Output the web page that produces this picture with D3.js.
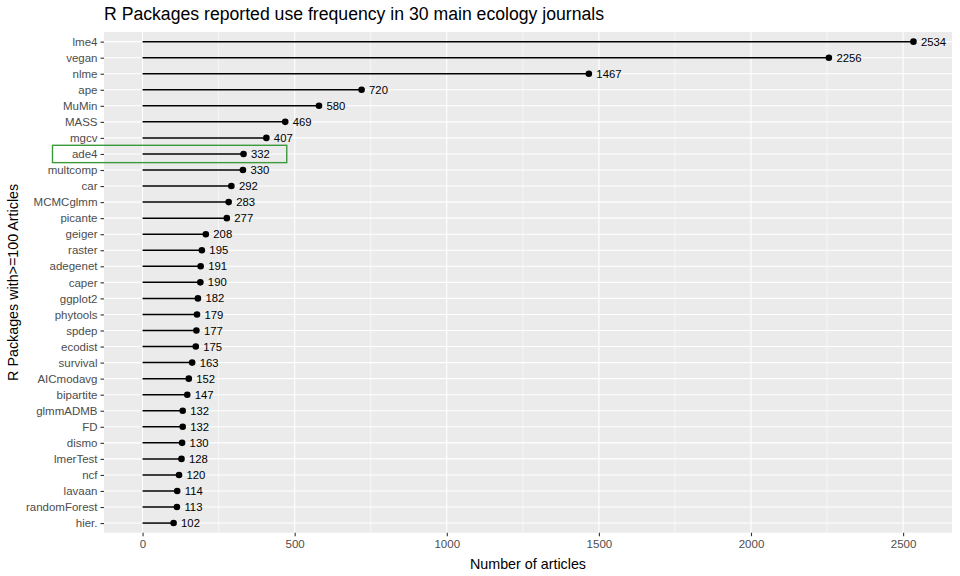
<!DOCTYPE html>
<html>
<head>
<meta charset="utf-8">
<script src="https://cdn.jsdelivr.net/npm/d3@7"></script>
<style>
  html, body { margin: 0; padding: 0; background: #fff; }
  text { font-family: "Liberation Sans", Arial, Helvetica, sans-serif; }
</style>
</head>
<body>
<svg id="chart" width="960" height="576"></svg>
<script>
// ---- data ----
const packages = ["lme4","vegan","nlme","ape","MuMin","MASS","mgcv","ade4","multcomp","car",
  "MCMCglmm","picante","geiger","raster","adegenet","caper","ggplot2","phytools","spdep","ecodist",
  "survival","AICmodavg","bipartite","glmmADMB","FD","dismo","lmerTest","ncf","lavaan","randomForest","hier."];
const articles = [2534,2256,1467,720,580,469,407,332,330,292,
  283,277,208,195,191,190,182,179,177,175,
  163,152,147,132,132,130,128,120,114,113,102];
const xTicks = [0, 500, 1000, 1500, 2000, 2500];
const xMinor = [250, 750, 1250, 1750, 2250];
const highlightPkg = "ade4";
const highlightX = [-296, 474];

const titleText = "R Packages reported use frequency in 30 main ecology journals";
const xTitle = "Number of articles";
const yTitle = "R Packages with>=100 Articles";

// ---- layout ----
const panel = { left: 104, right: 952, top: 32, bottom: 532.7 };
const svg = d3.select("#chart");

const xMax = d3.max(articles);
const x = d3.scaleLinear()
  .domain([-0.05 * xMax, xMax * 1.05])
  .range([panel.left, panel.right]);
const y = d3.scalePoint()
  .domain(packages)
  .range([panel.top, panel.bottom])
  .padding(0.6);

// panel background
svg.append("rect")
  .attr("x", panel.left).attr("y", panel.top)
  .attr("width", panel.right - panel.left).attr("height", panel.bottom - panel.top)
  .attr("fill", "#EBEBEB");

// minor grid
svg.append("g").selectAll("line").data(xMinor).join("line")
  .attr("x1", d => x(d)).attr("x2", d => x(d))
  .attr("y1", panel.top).attr("y2", panel.bottom)
  .attr("stroke", "#fff").attr("stroke-width", 0.55);

// major grid x
svg.append("g").selectAll("line").data(xTicks).join("line")
  .attr("x1", d => x(d)).attr("x2", d => x(d))
  .attr("y1", panel.top).attr("y2", panel.bottom)
  .attr("stroke", "#fff").attr("stroke-width", 1.1);

// major grid y
svg.append("g").selectAll("line").data(packages).join("line")
  .attr("x1", panel.left).attr("x2", panel.right)
  .attr("y1", d => y(d)).attr("y2", d => y(d))
  .attr("stroke", "#fff").attr("stroke-width", 1.1);

const data = packages.map((p, i) => ({ pkg: p, n: articles[i] }));

// segments
svg.append("g").selectAll("line").data(data).join("line")
  .attr("x1", x(0)).attr("x2", d => x(d.n))
  .attr("y1", d => y(d.pkg)).attr("y2", d => y(d.pkg))
  .attr("stroke", "#000").attr("stroke-width", 1.5);

// points
svg.append("g").selectAll("circle").data(data).join("circle")
  .attr("cx", d => x(d.n)).attr("cy", d => y(d.pkg))
  .attr("r", 3.3).attr("fill", "#000");

// value labels
svg.append("g").selectAll("text").data(data).join("text")
  .attr("x", d => x(d.n) + 7.5).attr("y", d => y(d.pkg))
  .attr("dy", "0.36em")
  .attr("font-size", 11.3).attr("fill", "#000")
  .text(d => d.n);

// highlight rectangle
const step = y.step();
svg.append("rect")
  .attr("x", x(highlightX[0])).attr("width", x(highlightX[1]) - x(highlightX[0]))
  .attr("y", y(highlightPkg) - step * 0.54).attr("height", step * 1.08)
  .attr("fill", "none").attr("stroke", "#3C9A3C").attr("stroke-width", 1.4);

// x axis
const xAxis = svg.append("g")
  .attr("transform", `translate(0,${panel.bottom})`)
  .call(d3.axisBottom(x).tickValues(xTicks).tickSize(3.5).tickPadding(3.5).tickFormat(d3.format("d")));
xAxis.select(".domain").remove();
xAxis.selectAll("line").attr("stroke", "#333").attr("stroke-width", 1.1);
xAxis.selectAll("text").attr("fill", "#4D4D4D").attr("font-size", 11.5)
  .style("font-family", '"Liberation Sans", Arial, sans-serif');

// y axis
const yAxis = svg.append("g")
  .attr("transform", `translate(${panel.left},0)`)
  .call(d3.axisLeft(y).tickSize(3.5).tickPadding(3));
yAxis.select(".domain").remove();
yAxis.selectAll("line").attr("stroke", "#333").attr("stroke-width", 1.1);
yAxis.selectAll("text").attr("fill", "#4D4D4D").attr("font-size", 11.5)
  .style("font-family", '"Liberation Sans", Arial, sans-serif');

// title
svg.append("text")
  .attr("x", panel.left).attr("y", 20)
  .attr("font-size", 17.65).attr("fill", "#000")
  .text(titleText);

// x title
svg.append("text")
  .attr("x", (panel.left + panel.right) / 2).attr("y", 569)
  .attr("text-anchor", "middle")
  .attr("font-size", 14.3).attr("fill", "#000")
  .text(xTitle);

// y title
svg.append("text")
  .attr("transform", `translate(18,${(panel.top + panel.bottom) / 2}) rotate(-90)`)
  .attr("text-anchor", "middle")
  .attr("font-size", 14.3).attr("fill", "#000")
  .text(yTitle);
</script>
</body>
</html>
